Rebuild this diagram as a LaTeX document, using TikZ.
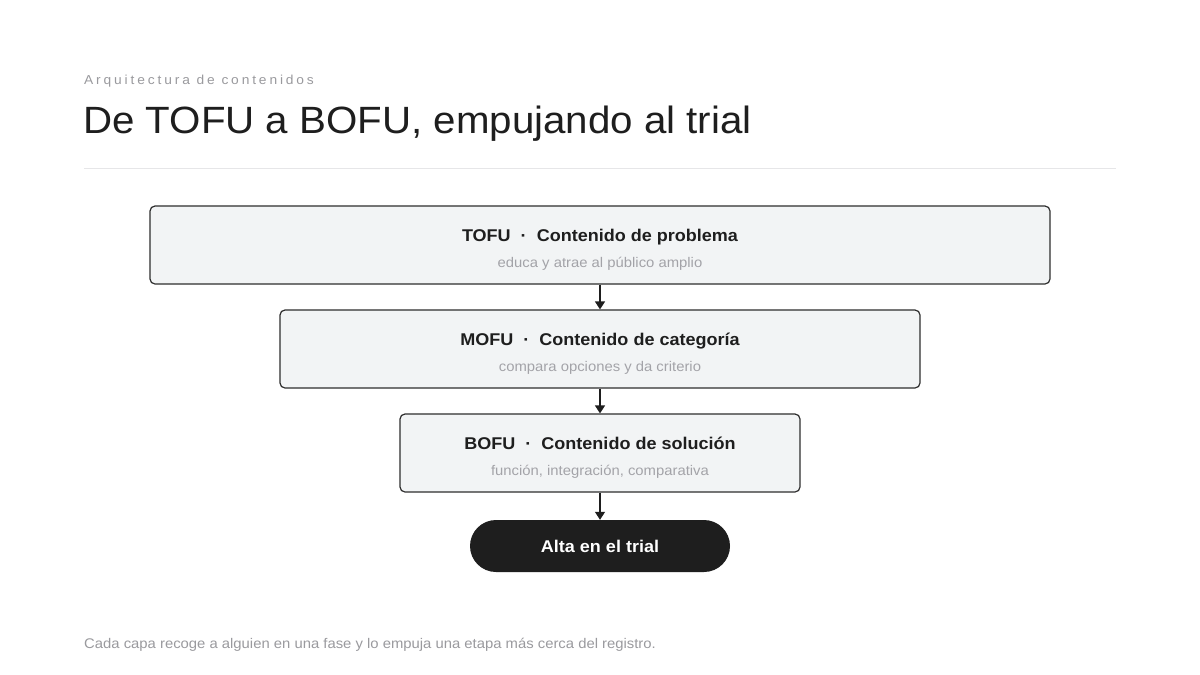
\documentclass[tikz,border=0pt]{standalone}
\usepackage{fontspec}
\setmainfont[FakeStretch=1.06]{Liberation Sans}
\newfontfamily\spacedfont[LetterSpace=22,FakeStretch=1.06]{Liberation Sans}
\newfontfamily\titlefont[FakeStretch=1.06]{Liberation Sans}
\usetikzlibrary{arrows.meta}
\definecolor{ink}{HTML}{1E1E1E}
\definecolor{boxfill}{HTML}{F2F4F5}
\definecolor{boxline}{HTML}{2E2E2E}
\definecolor{subgray}{HTML}{A3A3A8}
\definecolor{eyebrow}{HTML}{9A9A9E}
\definecolor{rulegray}{HTML}{E6E6E8}
\tikzset{
  stage/.style={draw=boxline, line width=1.2pt, fill=boxfill, rounded corners=5pt, minimum height=78pt, inner sep=0pt},
  stagetitle/.style={anchor=base, text=ink, font=\fontsize{17}{20}\selectfont\bfseries, inner sep=0pt},
  stagesub/.style={anchor=base, text=subgray, font=\fontsize{14}{17}\selectfont, inner sep=0pt},
  pill/.style={fill=ink, rounded corners=26pt, minimum width=260pt, minimum height=52pt, inner sep=0pt, text=white, font=\fontsize{17}{20}\selectfont\bfseries},
  flow/.style={draw=ink, line width=1.3pt, -{Triangle[length=8pt,width=10pt]}, shorten <=0pt, shorten >=0pt}
}
\begin{document}
\begin{tikzpicture}[x=1pt,y=-1pt]
\useasboundingbox[fill=white] (0,0) rectangle (1200,675);
\node[anchor=base west, inner sep=0pt, text=eyebrow, font=\fontsize{13}{15}\selectfont\spacedfont] (eyebrowlbl) at (84,84) {Arquitectura de contenidos};
\node[anchor=base west, inner sep=0pt, text=ink, font=\fontsize{38}{44}\selectfont\titlefont] (title) at (83,133) {De TOFU a BOFU, empujando al trial};
\draw[rulegray, line width=1pt] (84,168.5) coordinate (rl) -- (1116,168.5) coordinate (rr);

\node[stage, minimum width=900pt] (b1) at (600,245) {};
\node[stage, minimum width=640pt] (b2) at (600,349) {};
\node[stage, minimum width=400pt] (b3) at (600,453) {};
\node[pill] (trial) at (600,546) {Alta en el trial};

\node[stagetitle] (t1) at (600,241) {TOFU\ \ ·\ \ Contenido de problema};
\node[stagesub] (s1) at (600,267) {educa y atrae al público amplio};
\node[stagetitle] (t2) at (600,345) {MOFU\ \ ·\ \ Contenido de categoría};
\node[stagesub] (s2) at (600,371) {compara opciones y da criterio};
\node[stagetitle] (t3) at (600,449) {BOFU\ \ ·\ \ Contenido de solución};
\node[stagesub] (s3) at (600,475) {función, integración, comparativa};

\draw[flow] (b1) -- (b2);
\draw[flow] (b2) -- (b3);
\draw[flow] (b3) -- (trial);

\node[anchor=base west, inner sep=0pt, text=eyebrow, font=\fontsize{14}{17}\selectfont] (foot) at (84,648) {Cada capa recoge a alguien en una fase y lo empuja una etapa más cerca del registro.};
\end{tikzpicture}
\end{document}
